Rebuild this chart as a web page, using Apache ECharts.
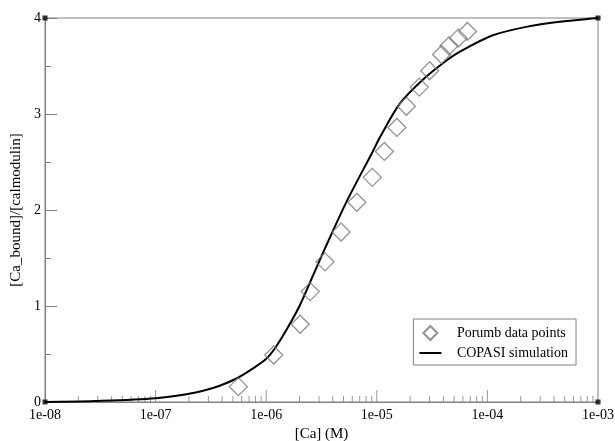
<!DOCTYPE html>
<html>
<head>
<meta charset="utf-8">
<script src="https://cdn.jsdelivr.net/npm/echarts@6/dist/echarts.min.js"></script>
<style>html,body{margin:0;padding:0;background:#fff;}#c{width:615px;height:441px;}</style>
</head>
<body>
<div id="c"></div>
<script>
// Porumb data points: [Ca] (M) and [Ca_bound]/[calmodulin]
var dataCa = [5.6e-7, 1.17e-6, 2.03e-6, 2.5e-6, 3.4e-6, 4.75e-6, 6.6e-6, 9.1e-6, 1.17e-5, 1.52e-5, 1.85e-5, 2.42e-5, 3.0e-5, 3.85e-5, 4.5e-5, 5.45e-5, 6.6e-5];
var dataBound = [0.16, 0.49, 0.81, 1.15, 1.46, 1.77, 2.08, 2.34, 2.61, 2.86, 3.08, 3.28, 3.45, 3.62, 3.71, 3.79, 3.86];
// COPASI simulation curve
var simCa = [1e-8, 2.8e-8, 1e-7, 2.3e-7, 3.8e-7, 5.5e-7, 7.6e-7, 1.0e-6, 1.2e-6, 1.54e-6, 2.0e-6, 2.5e-6, 3.4e-6, 5.4e-6, 9.2e-6, 1.07e-5, 1.62e-5, 2.62e-5, 4.3e-5, 5.65e-5, 1.12e-4, 2.3e-4, 4.5e-4, 1e-3];
var simBound = [0.0, 0.01, 0.04, 0.10, 0.17, 0.25, 0.35, 0.45, 0.56, 0.76, 1.0, 1.25, 1.60, 2.10, 2.61, 2.76, 3.11, 3.36, 3.56, 3.65, 3.82, 3.91, 3.96, 4.0];
// axis ticks
var xMajorTicks = [1e-8, 1e-7, 1e-6, 1e-5, 1e-4, 1e-3];
var xMinorMultiples = [2, 3, 4, 5, 6, 7, 8, 9];
var xMin = 1e-8, xMax = 1e-3;
var yMin = 0, yMax = 4;
var seriesNames = ['Porumb data points', 'COPASI simulation'];
var xTitle = '[Ca] (M)';
var yTitle = '[Ca_bound]/[calmodulin]';

var xMinorTicks = [];
for (var i = 0; i < xMajorTicks.length - 1; i++) {
  for (var j = 0; j < xMinorMultiples.length; j++) {
    xMinorTicks.push([parseFloat((xMajorTicks[i] * xMinorMultiples[j]).toPrecision(3)), yMin]);
  }
}
var xMajorTickPts = xMajorTicks.slice(1, xMajorTicks.length - 1).map(function (v) { return [v, yMin]; });
function fmt(v) {
  var e = Math.round(Math.log10(v));
  var s = Math.abs(e) < 10 ? '0' + Math.abs(e) : '' + Math.abs(e);
  return '1e' + (e < 0 ? '-' : '+') + s;
}
var serif = 'Liberation Serif';
var axisGray = '#808080';
var chart = echarts.init(document.getElementById('c'), null, {renderer: 'canvas'});
chart.setOption({
  animation: false,
  backgroundColor: '#fff',
  grid: {left: 45, right: 17, top: 18, bottom: 39, show: true, borderColor: axisGray, borderWidth: 1, backgroundColor: 'transparent', outerBoundsMode: 'none', containLabel: false},
  legend: {
    right: 39, bottom: 76,
    orient: 'vertical',
    data: [
      {name: seriesNames[0], icon: 'path://M7,0 L14,7 L7,14 L0,7 Z'},
      {name: seriesNames[1], icon: 'path://M0,0 L22,0 L22,2 L0,2 Z'}
    ],
    formatter: function (n) { return '   ' + n; },
    itemWidth: 22, itemHeight: 14, itemGap: 5,
    padding: [6, 8, 5, 6],
    borderColor: axisGray, borderWidth: 1, borderRadius: 0,
    backgroundColor: '#fff',
    textStyle: {fontFamily: serif, fontSize: 14, color: '#000'}
  },
  xAxis: {
    type: 'log', logBase: 10, min: xMin, max: xMax,
    name: xTitle, nameLocation: 'middle', nameGap: 24,
    nameTextStyle: {fontFamily: serif, fontSize: 15, color: '#000'},
    axisLine: {show: true, lineStyle: {color: axisGray, width: 1}},
    axisTick: {show: false},
    axisLabel: {fontFamily: serif, fontSize: 14, color: '#000', margin: 6, formatter: fmt},
    splitLine: {show: false}
  },
  yAxis: {
    type: 'value', min: yMin, max: yMax, interval: 1,
    name: yTitle, nameLocation: 'middle', nameGap: 16, nameRotate: 90,
    nameTextStyle: {fontFamily: serif, fontSize: 15, color: '#000'},
    axisLine: {show: true, lineStyle: {color: axisGray, width: 1}},
    axisTick: {show: true, inside: true, length: 12, lineStyle: {color: axisGray}},
    minorTick: {show: true, splitNumber: 2, length: 6, lineStyle: {color: axisGray}},
    axisLabel: {fontFamily: serif, fontSize: 14, color: '#000', margin: 4},
    splitLine: {show: false},
    minorSplitLine: {show: false}
  },
  series: [{
    name: seriesNames[0],
    type: 'scatter',
    symbol: 'diamond',
    symbolSize: 18,
    itemStyle: {color: 'rgba(255,255,255,0)', borderColor: '#777', borderWidth: 1.3},
    data: dataCa.map(function (x, i) { return [x, dataBound[i]]; }),
    z: 3
  }, {
    name: seriesNames[1],
    type: 'line',
    smooth: 0.3,
    showSymbol: false,
    symbol: 'none',
    lineStyle: {color: '#000', width: 2},
    itemStyle: {color: '#000'},
    data: simCa.map(function (x, i) { return [x, simBound[i]]; }),
    z: 2
  }, {
    name: 'minor ticks',
    type: 'scatter',
    symbol: 'rect',
    symbolSize: [1, 6],
    symbolOffset: [0, -3],
    itemStyle: {color: axisGray},
    silent: true,
    data: xMinorTicks,
    z: 1
  }, {
    name: 'major ticks',
    type: 'scatter',
    symbol: 'rect',
    symbolSize: [1, 12],
    symbolOffset: [0, -6],
    itemStyle: {color: axisGray},
    silent: true,
    data: xMajorTickPts,
    z: 1
  }, {
    name: 'corners',
    type: 'scatter',
    symbol: 'rect',
    symbolSize: 5,
    itemStyle: {color: '#000'},
    silent: true,
    data: [[xMin, yMax], [xMax, yMax], [xMin, yMin], [xMax, yMin]],
    z: 4
  }]
});
</script>
</body>
</html>
